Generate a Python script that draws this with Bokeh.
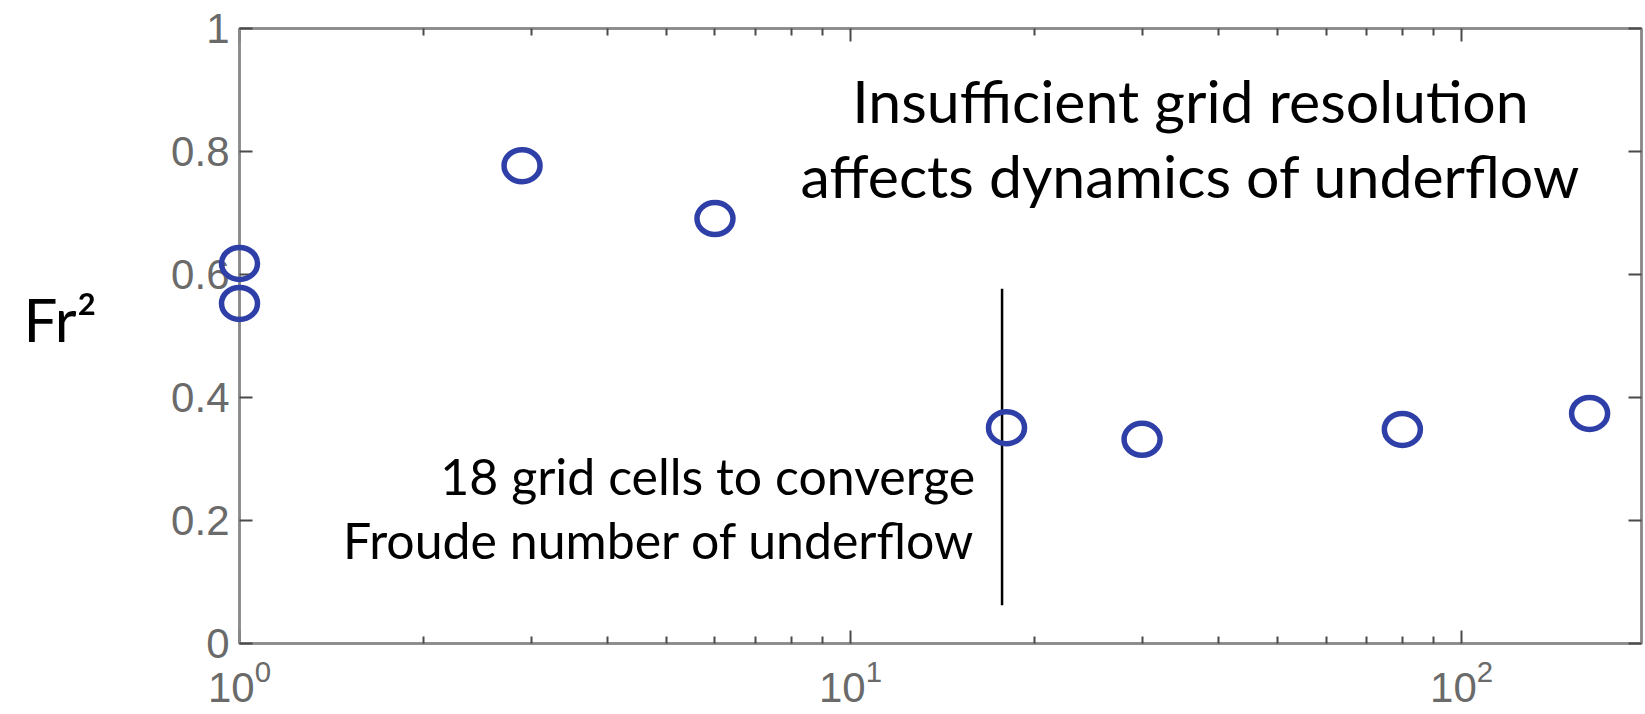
from bokeh.plotting import figure
from bokeh.models import Range1d, FixedTicker, LinearAxis, LogAxis, Label
from bokeh.core.properties import value
from bokeh.embed import file_html
from bokeh.resources import INLINE

# ---- data ----
grid_cells = [1, 1, 2.9, 6, 18, 30, 80, 162]
fr_squared = [0.618, 0.553, 0.777, 0.691, 0.351, 0.332, 0.348, 0.374]

x_major_ticks = [1, 10, 100]
x_minor_ticks = [2, 3, 4, 5, 6, 7, 8, 9, 20, 30, 40, 50, 60, 70, 80, 90, 200]
y_ticks = [0, 0.2, 0.4, 0.6, 0.8, 1.0]
y_tick_labels = ["0", "0.2", "0.4", "0.6", "0.8", "1"]

converge_cells = 17.7
converge_line_y = [0.062, 0.577]

top_note = ["Insufficient grid resolution", "affects dynamics of underflow"]
bottom_note = ["18 grid cells to converge", "Froude number of underflow"]
y_title = "Fr²"

AXIS_GRAY = "#8a8a8a"
TICK_GRAY = "#4a4a4a"
LABEL_GRAY = "#6a6a6a"
BLUE = "#2f3fa8"

p = figure(width=1645, height=714, x_axis_type="log",
           x_range=Range1d(1, 197), y_range=Range1d(0, 1),
           output_backend="svg", toolbar_location=None,
           min_border_left=239, min_border_right=4,
           min_border_top=28, min_border_bottom=71)
p.xgrid.visible = False
p.ygrid.visible = False
p.outline_line_color = AXIS_GRAY
p.outline_line_width = 2.5
p.background_fill_color = "white"
p.border_fill_color = "white"


def style_axis(ax, show_labels=True):
    ax.axis_line_color = AXIS_GRAY
    ax.axis_line_width = 2.5
    ax.major_tick_in = 13
    ax.major_tick_out = 0
    ax.minor_tick_in = 7
    ax.minor_tick_out = 0
    ax.major_tick_line_color = TICK_GRAY
    ax.major_tick_line_width = 2
    ax.minor_tick_line_color = TICK_GRAY
    ax.minor_tick_line_width = 2
    ax.major_label_text_font = "Liberation Sans"
    ax.major_label_text_color = LABEL_GRAY
    if show_labels:
        ax.major_label_text_font_size = "42px"
        ax.major_label_standoff = 10
    else:
        ax.major_label_text_font_size = "2px"
        ax.major_label_text_alpha = 0
        ax.major_label_standoff = 0


xa = p.xaxis[0]
xa.ticker = FixedTicker(ticks=x_major_ticks, minor_ticks=x_minor_ticks)
style_axis(xa)
xa.major_label_standoff = 15

ya = p.yaxis[0]
ya.ticker = FixedTicker(ticks=y_ticks, minor_ticks=[])
ya.major_label_overrides = {t: s for t, s in zip(y_ticks, y_tick_labels)}
style_axis(ya)

top_ax = LogAxis(ticker=FixedTicker(ticks=x_major_ticks, minor_ticks=x_minor_ticks))
style_axis(top_ax, show_labels=False)
p.add_layout(top_ax, "above")

right_ax = LinearAxis(ticker=FixedTicker(ticks=y_ticks, minor_ticks=[]))
style_axis(right_ax, show_labels=False)
p.add_layout(right_ax, "right")

p.ellipse(x=grid_cells, y=fr_squared, width=36, height=32,
          width_units="screen", height_units="screen",
          fill_color=None, line_color=BLUE, line_width=5.5, level="overlay")

p.segment(x0=[converge_cells], y0=[converge_line_y[0]],
          x1=[converge_cells], y1=[converge_line_y[1]],
          line_color="black", line_width=2.5)

# annotations
for txt, yy in zip(top_note, [0.883, 0.761]):
    p.add_layout(Label(x=36, y=yy, text=txt, text_align="center",
                       text_baseline="alphabetic", text_font="Lato",
                       text_font_size="59px", text_color="black"))
for txt, yy in zip(bottom_note, [0.272, 0.169]):
    p.add_layout(Label(x=16, y=yy, text=txt, text_align="right",
                       text_baseline="alphabetic", text_font="Lato",
                       text_font_size="50px", text_color="black"))

# y title, anchored at the left edge of the frame and shifted into the margin
p.text(x=[x_major_ticks[0]], y=[0.527], text=[y_title], x_offset=-216,
       text_align="left", text_baseline="alphabetic",
       text_font=value("Lato"), text_font_size="60px", text_color="black",
       level="overlay")

open("out.html", "w").write(file_html(p, INLINE))
